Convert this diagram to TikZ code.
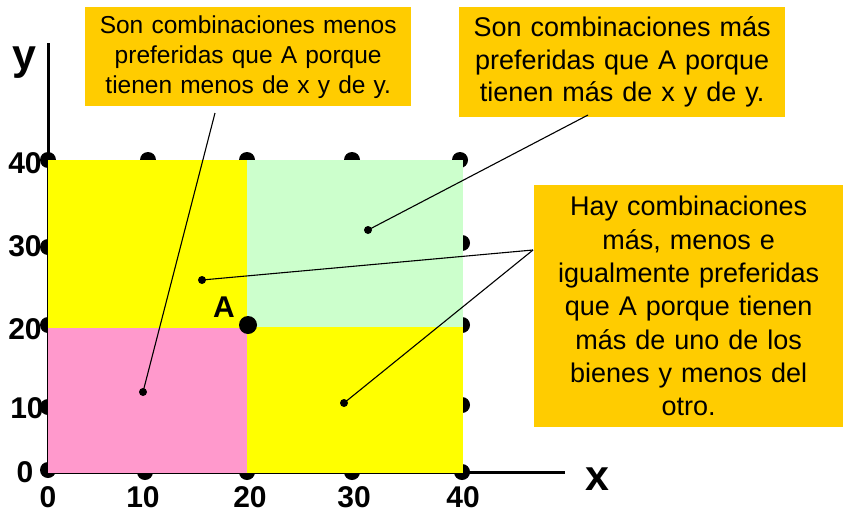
\documentclass[tikz,border=0pt]{standalone}
\usepackage{fontspec}
\setmainfont{Liberation Sans}
\definecolor{boxor}{HTML}{FFCC00}
\definecolor{yel}{HTML}{FFFF00}
\definecolor{grn}{HTML}{CCFFCC}
\definecolor{pnk}{HTML}{FF99CC}
\begin{document}
\begin{tikzpicture}[x=1pt,y=-1pt,
  tick/.style={font=\fontsize{30}{30}\selectfont\bfseries, inner sep=0},
  axlab/.style={font=\fontsize{43}{43}\selectfont\bfseries, inner sep=0},
  gdot/.style={circle, fill=black, minimum size=16pt, inner sep=0},
  sdot/.style={circle, fill=black, minimum size=8pt, inner sep=0},
  adot/.style={circle, fill=black, minimum size=18pt, inner sep=0},
  infobox/.style={fill=boxor, inner sep=0, align=center, anchor=north west},
  conn/.style={black, line width=1.1pt},
  axis/.style={black, line width=3pt}]
\useasboundingbox (0,0) rectangle (843,514);

% tick labels
\node[tick] (ty40) at (25,163) {40};
\node[tick] (ty30) at (25,246) {30};
\node[tick] (ty20) at (25,329) {20};
\node[tick] (ty10) at (27,408) {10};
\node[tick] (ty0)  at (25,472) {0};
\node[tick] (tx0)  at (48,497) {0};
\node[tick] (tx10) at (143,497) {10};
\node[tick] (tx20) at (250,497) {20};
\node[tick] (tx30) at (354,497) {30};
\node[tick] (tx40) at (463,497) {40};

% axes
\coordinate (O) at (48,472);
\coordinate (ytop) at (48,43);
\coordinate (xend) at (565,472);
\draw[axis] (O) -- (ytop);
\draw[axis] (O) -- (xend);
\node[axlab] (ylab) at (24,63) {y};
\node[axlab] (xlab) at (597,479) {x};

% grid dots (partly hidden by the regions)
\foreach \x/\n in {48/a,148/b,247/c,352/d,460/e} {
  \node[gdot] (top\n) at (\x,160) {};
}
\foreach \y/\n in {243/a,325/b,405/c,472/d} {
  \node[gdot] (right\n) at (462,\y) {};
}
\foreach \y/\n in {247/a,325/b,407/c,470/d} {
  \node[gdot] (left\n) at (48,\y) {};
}
\foreach \x/\n in {145/a,247/b,352/c} {
  \node[gdot] (bot\n) at (\x,472) {};
}

% regions
\fill[yel] (48,160) rectangle (247,328);
\fill[grn] (247,160) rectangle (463,327);
\fill[pnk] (48,328) rectangle (247,473);
\fill[yel] (247,327) rectangle (463,473);

% point A
\node[adot] (A) at (248,325) {};
\node[font=\fontsize{30}{30}\selectfont\bfseries, inner sep=0] (Alab) at (224,307) {A};

% boxes
\node[infobox, text width=326pt, minimum height=99pt,
      font=\fontsize{24.5}{30}\selectfont] (b1) at (85,7)
  {Son combinaciones menos\\preferidas que A porque\\tienen menos de x y de y.};
\node[infobox, text width=326pt, minimum height=110pt,
      font=\fontsize{27}{32.5}\selectfont] (b2) at (459,7)
  {Son combinaciones más\\preferidas que A porque\\tienen más de x y de y.};
\node[infobox, text width=309pt, minimum height=242pt,
      font=\fontsize{27}{33.3}\selectfont] (b3) at (534,185)
  {Hay combinaciones\\más, menos e\\igualmente preferidas\\que A porque tienen\\más de uno de los\\bienes y menos del\\otro.};

% connector ends
\node[sdot] (dpink) at (143,392) {};
\node[sdot] (dgreen) at (368,230) {};
\node[sdot] (dyel1) at (202,280) {};
\node[sdot] (dyel2) at (344,403) {};
\coordinate (c1) at (215,113);
\coordinate (c2) at (588,115);
\coordinate (c3) at (533,250);

\draw[conn] (c1) -- (dpink.center);
\draw[conn] (c2) -- (dgreen.center);
\draw[conn] (c3) -- (dyel1.center);
\draw[conn] (c3) -- (dyel2.center);
\end{tikzpicture}
\end{document}
